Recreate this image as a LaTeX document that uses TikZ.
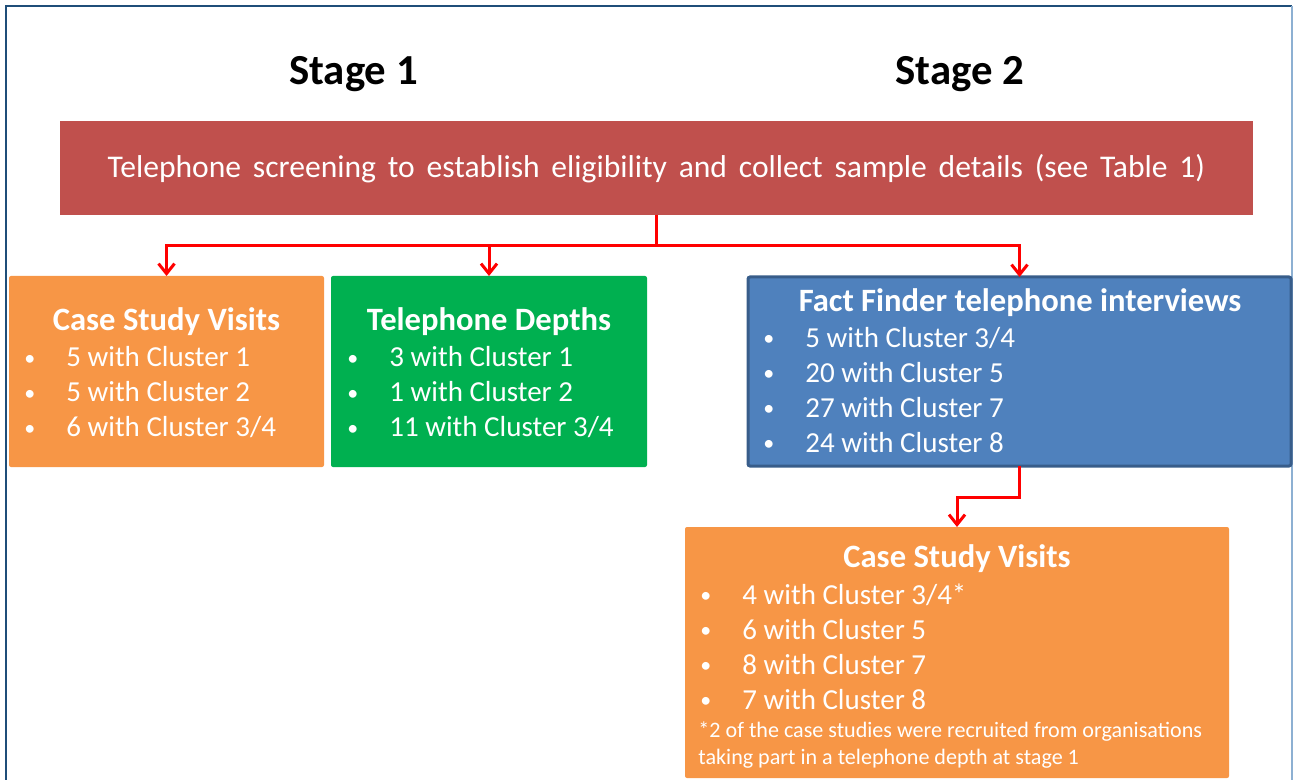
\documentclass[tikz,border=0pt]{standalone}
\usepackage{fontspec}
\setmainfont{Carlito}
\usetikzlibrary{arrows.meta}

\definecolor{frameblue}{HTML}{1F4E79}
\definecolor{framelight}{HTML}{8DB0D2}
\definecolor{bannerred}{HTML}{C0504D}
\definecolor{panelorange}{HTML}{F79646}
\definecolor{panelgreen}{HTML}{00B050}
\definecolor{panelblue}{HTML}{4F81BD}
\definecolor{paneledge}{HTML}{385D8A}
\definecolor{linkred}{HTML}{FF0000}

% bullet hung to the left of the item text
\newcommand\bul{\llap{\makebox[36.5pt]{\raisebox{0.6pt}{\fontsize{11}{13}\selectfont\textbullet}}}}

\begin{document}
\begin{tikzpicture}[x=0.5pt,y=-0.5pt,
  panel/.style={anchor=north west, inner sep=0pt, outer sep=0pt, rounded corners=1pt},
  stagehead/.style={anchor=base, inner sep=0pt, font=\fontsize{21.4}{25}\selectfont\bfseries},
  head/.style={anchor=base, inner sep=0pt, text=white, font=\fontsize{16.3}{19}\selectfont\bfseries},
  item/.style={anchor=base west, inner sep=0pt, text=white, font=\fontsize{14.5}{17}\selectfont},
  note/.style={anchor=base west, inner sep=0pt, text=white, font=\fontsize{11.05}{13}\selectfont},
  conn/.style={draw=linkred, line width=1.5pt},
  tip/.style={-{Straight Barb[length=5pt,width=8pt,line width=1.5pt]}}
]
\clip (0,0) rectangle (1293,780);

% outer frame
\draw[frameblue, line width=1pt] (6,800) -- (6,6.5) -- (1292,6.5);
\draw[framelight, line width=1pt] (1292,6.5) -- (1292,800);

% stage titles
\node[stagehead] (stage1) at (353.5,85) {Stage 1};
\node[stagehead] (stage2) at (960,85) {Stage 2};

% screening banner
\node[panel, fill=bannerred, rounded corners=0pt, minimum width=596.5pt, minimum height=47pt] (top) at (60,121) {};
\node[anchor=base, inner sep=0pt, text=white, font=\fontsize{15.8}{18}\selectfont] (toptext) at (656.5,177.3)
  {\spaceskip=5.9pt\relax Telephone screening to establish eligibility and collect sample details (see Table 1)};

% stage 1 panels
\node[panel, fill=panelorange, minimum width=157.5pt, minimum height=95.5pt] (csvA) at (9,276) {};
\node[head] (csvAhead) at (166.5,330) {Case Study Visits};
\foreach \t [count=\i from 0] in {5 with Cluster 1, 5 with Cluster 2, 6 with Cluster 3/4}
  \node[item] (csvA-\i) at (66,366.5+35*\i) {\bul\t};

\node[panel, fill=panelgreen, minimum width=158pt, minimum height=95.5pt] (tel) at (331,276) {};
\node[head] (telhead) at (489,330) {Telephone Depths};
\foreach \t [count=\i from 0] in {3 with Cluster 1, 1 with Cluster 2, 11 with Cluster 3/4}
  \node[item] (tel-\i) at (389,366.5+35*\i) {\bul\t};

% stage 2 panels
\node[panel, fill=panelblue, draw=paneledge, line width=1.5pt, minimum width=271.5pt, minimum height=94.5pt] (ff) at (748,277) {};
\node[head] (ffhead) at (1020,311.7) {Fact Finder telephone interviews};
\foreach \t [count=\i from 0] in {5 with Cluster 3/4, 20 with Cluster 5, 27 with Cluster 7, 24 with Cluster 8}
  \node[item] (ff-\i) at (805,347+35*\i) {\bul\t};

\node[panel, fill=panelorange, minimum width=272pt, minimum height=125.5pt] (csvB) at (685,527) {};
\node[head] (csvBhead) at (957,567.7) {Case Study Visits};
\foreach \t [count=\i from 0] in {4 with Cluster 3/4*, 6 with Cluster 5, 8 with Cluster 7, 7 with Cluster 8}
  \node[item] (csvB-\i) at (742,604+35*\i) {\bul\t};
\node[note] (noteA) at (698,737.7) {*2 of the case studies were recruited from organisations};
\node[note] (noteB) at (698,764) {taking part in a telephone depth at stage 1};

% connectors
\coordinate (bus) at (656.5,246);
\coordinate (elbow) at (1019.5,497);
\draw[conn] (top.south) -- (bus);
\draw[conn, tip] (bus) -| (csvA.north);
\draw[conn, tip] (bus) -| (tel.north);
\draw[conn, tip] (bus) -| (ff.north);
\draw[conn, tip] (ff.south) -- (elbow) -| (csvB.north);
\end{tikzpicture}
\end{document}
